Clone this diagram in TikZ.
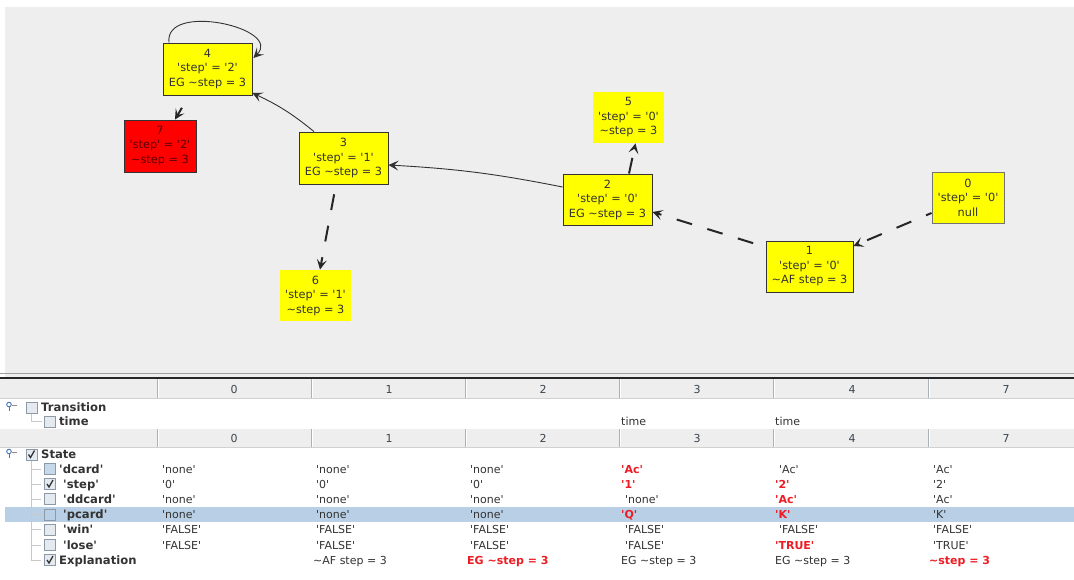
\documentclass[tikz,border=0pt]{standalone}
\usepackage{fontspec}
\setmainfont{DejaVu Sans}[Ligatures=TeXOff]
\usetikzlibrary{arrows.meta,calc}

\definecolor{canvas}{HTML}{EEEEEE}
\definecolor{nodeyellow}{HTML}{FFFF00}
\definecolor{nodered}{HTML}{FF0000}
\definecolor{ink}{HTML}{333333}
\definecolor{hilite}{HTML}{B8CFE5}
\definecolor{hdrline}{HTML}{A9B1B9}
\definecolor{hdrtext}{HTML}{3A4550}
\definecolor{diffred}{HTML}{EE1C24}
\definecolor{treeline}{HTML}{C8C8C8}
\definecolor{boxedge}{HTML}{8C9AA8}
\definecolor{boxfill}{HTML}{E4EAF0}
\definecolor{expander}{HTML}{4A78B5}

\newcommand\nodefont{\fontsize{11.3}{14.5}\selectfont}
\newcommand\cellfont{\fontsize{11}{13}\selectfont}
\newcommand\labelfont{\fontsize{11.6}{13}\selectfont\bfseries}
\newcommand\tild{\textasciitilde}

\begin{document}
\begin{tikzpicture}[x=1pt,y=-1pt,
  stbox/.style={fill=nodeyellow, draw=ink, line width=0.9pt, inner sep=0pt, align=center, text=ink, font=\nodefont},
  plainbox/.style={stbox, draw=none},
  solidedge/.style={draw=ink, line width=0.9pt, -{Stealth[length=10pt,width=10pt,inset=4.5pt]}},
  dashedge/.style={draw=black!85, line width=2pt, dash pattern=on 16pt off 16pt, -{Stealth[length=10pt,width=10pt,inset=4.5pt]}},
  cell/.style={anchor=base west, inner sep=0pt, text=ink, font=\cellfont},
  diff/.style={cell, text=diffred, font=\cellfont\bfseries},
  rowlabel/.style={cell, font=\labelfont},
  hdr/.style={anchor=base, inner sep=0pt, text=hdrtext, font=\cellfont},
  ckbox/.style={draw=boxedge, fill=boxfill, line width=0.8pt, minimum size=11pt, inner sep=0pt},
  checked/.style={ckbox, path picture={\draw[ink, line width=1.3pt] ($(path picture bounding box.center)+(-3,0)$) -- ++(2,3) -- ++(4,-7);}},
  tree/.style={draw=treeline, line width=0.8pt},
]
\useasboundingbox (0,0) rectangle (1074,579);
\fill[white] (0,0) rectangle (1074,579);

% ---------- graph canvas ----------
\fill[canvas] (5,7) rectangle (1074,378);

\node[stbox, minimum width=89pt, minimum height=52pt] (n4) at (207.5,69) {4\\'step' = '2'\\EG \tild step = 3};
\node[stbox, fill=nodered, text=red!35!black, minimum width=72pt, minimum height=52pt] (n7) at (160,146) {7\\'step' = '2'\\\tild step = 3};
\node[stbox, minimum width=89pt, minimum height=52pt] (n3) at (343.5,158) {3\\'step' = '1'\\EG \tild step = 3};
\node[plainbox, minimum width=71pt, minimum height=51pt] (n6) at (315.5,295.5) {6\\'step' = '1'\\\tild step = 3};
\node[plainbox, minimum width=71pt, minimum height=51pt] (n5) at (628.5,117.5) {5\\'step' = '0'\\\tild step = 3};
\node[stbox, minimum width=89pt, minimum height=51pt] (n2) at (607.5,199.5) {2\\'step' = '0'\\EG \tild step = 3};
\node[stbox, minimum width=87pt, minimum height=51pt] (n1) at (809.5,266.5) {1\\'step' = '0'\\\tild AF step = 3};
\node[stbox, draw=black!55, minimum width=72pt, minimum height=51pt] (n0) at (968,197.5) {0\\'step' = '0'\\null};

% transitions
\draw[solidedge] ($(n4.north)+(-38.5,0)$) .. controls +(-5,-41) and +(30,-30) .. ($(n4.east)+(1,-11)$);
\draw[dashedge, dash phase=20pt] ($(n4.south)+(-19.5,2)$) -- ($(n7.north)+(15,0)$);
\draw[solidedge] ($(n3.north)+(-29.5,0)$) to[bend right=7] ($(n4.east)+(0,24)$);
\draw[dashedge, dash phase=22pt] ($(n3.south)+(-7.5,0)$) -- ($(n6.north)+(4.5,0)$);
\draw[solidedge] ($(n2.west)+(0,-12.5)$) to[bend right=4] ($(n3.east)+(0,7)$);
\draw[dashedge] ($(n2.north)+(21.5,0)$) -- ($(n5.south)+(7,0)$);
\draw[dashedge, dash phase=19pt] ($(n1.west)+(0,-19.5)$) -- ($(n2.east)+(0,12.5)$);
\draw[dashedge, dash phase=10pt] ($(n0.west)+(0,15.5)$) -- ($(n1.east)+(0,-20.5)$);

% ---------- splitter ----------
\draw[black!38, line width=1pt] (0,373.5) -- (1074,373.5);
\draw[black!85, line width=1.6pt] (0,378.2) -- (1074,378.2);

% ---------- header rows ----------
\fill[canvas] (0,379) rectangle (1074,398);
\fill[canvas] (0,429) rectangle (1074,447);
\draw[black!18, line width=0.8pt] (0,398) -- (1074,398);
\draw[black!18, line width=0.8pt] (0,447) -- (1074,447);
\foreach \xx in {157,311,465,619,773,928}{
  \draw[hdrline, line width=1pt] (\xx,379) -- (\xx,398);
  \draw[white, line width=0.8pt] (\xx+1.2,379) -- (\xx+1.2,398);
  \draw[hdrline, line width=1pt] (\xx,429) -- (\xx,447);
  \draw[white, line width=0.8pt] (\xx+1.2,429) -- (\xx+1.2,447);
}
\foreach \xx/\lab [count=\i] in {234/0,389/1,543/2,697/3,852/4,1006/7}{
  \node[hdr] (ha\i) at (\xx,393) {\lab};
  \node[hdr] (hb\i) at (\xx,442) {\lab};
}

% ---------- selected row ----------
\fill[hilite] (5,507) rectangle (1074,522);

% ---------- tree ----------
\draw[expander, line width=0.9pt] (9,404.5) circle (2.3);
\draw[expander, line width=0.9pt] (9,406.8) -- (9,411);
\draw[black!45, line width=0.8pt] (12,405) -- (17,405);
\draw[expander, line width=0.9pt] (9,451.5) circle (2.3);
\draw[expander, line width=0.9pt] (9,453.8) -- (9,458);
\draw[black!45, line width=0.8pt] (12,452) -- (17,452);

\draw[tree] (31,414) -- (31,421) -- (42,421);
\draw[tree] (31,461) -- (31,560);
\foreach \yy in {469,484,499,514.5,529.5,545,560}{
  \draw[tree] (31,\yy) -- (41,\yy);
}

\node[ckbox] (cbTrans) at (31.5,407.5) {};
\node[rowlabel] (lTrans) at (41,411.5) {Transition};
\node[ckbox] (cbTime) at (50,421.5) {};
\node[rowlabel] (lTime) at (59,425.5) {time};
\node[cell] (tm3) at (621,425.5) {time};
\node[cell] (tm4) at (775,425.5) {time};

\node[checked] (cbState) at (31.5,454.5) {};
\node[rowlabel] (lState) at (41,458.5) {State};

\node[ckbox, fill=hilite!80] (cbDcard) at (50,469) {};
\node[checked] (cbStep) at (50,484) {};
\node[ckbox] (cbDdcard) at (50,499) {};
\node[ckbox, fill=hilite] (cbPcard) at (50,514.5) {};
\node[ckbox] (cbWin) at (50,529.5) {};
\node[ckbox] (cbLose) at (50,545) {};
\node[checked] (cbExpl) at (50,560) {};

\node[rowlabel] (lDcard) at (59,473) {'dcard'};
\node[rowlabel] (lStep) at (63,488) {'step'};
\node[rowlabel] (lDdcard) at (63,503) {'ddcard'};
\node[rowlabel] (lPcard) at (63,518.5) {'pcard'};
\node[rowlabel] (lWin) at (63,533.5) {'win'};
\node[rowlabel] (lLose) at (63,549) {'lose'};
\node[rowlabel] (lExpl) at (59,564) {Explanation};

% 'dcard'
\node[cell] (d0) at (162,473) {'none'};
\node[cell] (d1) at (316,473) {'none'};
\node[cell] (d2) at (470,473) {'none'};
\node[diff] (d3) at (621,473) {'Ac'};
\node[cell] (d4) at (779,473) {'Ac'};
\node[cell] (d5) at (933,473) {'Ac'};
% 'step'
\node[cell] (s0) at (162,488) {'0'};
\node[cell] (s1) at (316,488) {'0'};
\node[cell] (s2) at (470,488) {'0'};
\node[diff] (s3) at (621,488) {'1'};
\node[diff] (s4) at (775,488) {'2'};
\node[cell] (s5) at (933,488) {'2'};
% 'ddcard'
\node[cell] (dd0) at (162,503) {'none'};
\node[cell] (dd1) at (316,503) {'none'};
\node[cell] (dd2) at (470,503) {'none'};
\node[cell] (dd3) at (625,503) {'none'};
\node[diff] (dd4) at (775,503) {'Ac'};
\node[cell] (dd5) at (933,503) {'Ac'};
% 'pcard'
\node[cell] (p0) at (162,518.5) {'none'};
\node[cell] (p1) at (316,518.5) {'none'};
\node[cell] (p2) at (470,518.5) {'none'};
\node[diff] (p3) at (621,518.5) {'Q'};
\node[diff] (p4) at (775,518.5) {'K'};
\node[cell] (p5) at (933,518.5) {'K'};
% 'win'
\node[cell] (w0) at (162,533.5) {'FALSE'};
\node[cell] (w1) at (316,533.5) {'FALSE'};
\node[cell] (w2) at (470,533.5) {'FALSE'};
\node[cell] (w3) at (625,533.5) {'FALSE'};
\node[cell] (w4) at (779,533.5) {'FALSE'};
\node[cell] (w5) at (933,533.5) {'FALSE'};
% 'lose'
\node[cell] (l0) at (162,549) {'FALSE'};
\node[cell] (l1) at (316,549) {'FALSE'};
\node[cell] (l2) at (470,549) {'FALSE'};
\node[cell] (l3) at (625,549) {'FALSE'};
\node[diff] (l4) at (775,549) {'TRUE'};
\node[cell] (l5) at (933,549) {'TRUE'};
% Explanation
\node[cell] (e1) at (313,564) {\tild AF step = 3};
\node[diff] (e2) at (467,564) {EG \tild step = 3};
\node[cell] (e3) at (621,564) {EG \tild step = 3};
\node[cell] (e4) at (775,564) {EG \tild step = 3};
\node[diff] (e5) at (929,564) {\tild step = 3};
\end{tikzpicture}
\end{document}
